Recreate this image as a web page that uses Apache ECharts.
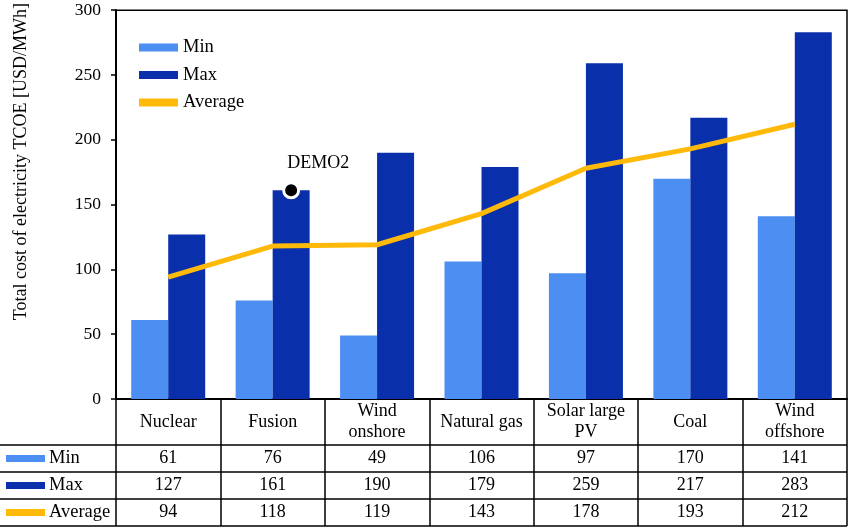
<!DOCTYPE html>
<html>
<head>
<meta charset="utf-8">
<script src="https://cdn.jsdelivr.net/npm/echarts@6/dist/echarts.min.js"></script>
<style>html,body{margin:0;padding:0;background:#fff}#c{width:850px;height:527px}</style>
</head>
<body>
<div id="c"></div>
<script>
// ---- data ----
const categories = ['Nuclear', 'Fusion', 'Wind\nonshore', 'Natural gas', 'Solar large\nPV', 'Coal', 'Wind\noffshore'];
const minValues = [61, 76, 49, 106, 97, 170, 141];
const maxValues = [127, 161, 190, 179, 259, 217, 283];
const avgValues = [94, 118, 119, 143, 178, 193, 212];
const demoPoint = [null, 161, null, null, null, null, null];
const demoLabel = 'DEMO2';
const seriesNames = ['Min', 'Max', 'Average'];
const yMin = 0, yMax = 300, yInterval = 50;

const colors = { min: '#4C8EF2', max: '#0A2FAA', avg: '#FFB908' };
const FONT = '"Liberation Serif", "Times New Roman", serif';

const chart = echarts.init(document.getElementById('c'));
const GRID = { left: 116, right: 3, top: 8, bottom: 128 };
const BAR_W = 37;

chart.setOption({
  animation: false,
  textStyle: { fontFamily: FONT, color: '#000' },
  grid: { left: GRID.left, right: GRID.right, top: GRID.top, bottom: GRID.bottom,
          show: true, borderColor: '#000', borderWidth: 1.5 },
  legend: {
    orient: 'vertical', left: 139, top: 38, itemWidth: 39, itemHeight: 8, itemGap: 8.5,
    icon: 'rect', padding: 0,
    textStyle: { fontFamily: FONT, fontSize: 18.5, color: '#000', lineHeight: 18 },
    data: seriesNames
  },
  xAxis: {
    type: 'category', data: categories,
    axisLine: { lineStyle: { color: '#000', width: 2 } },
    axisTick: { show: true, interval: 0, length: 127, lineStyle: { color: '#000', width: 1.5 } },
    axisLabel: { interval: 0, hideOverlap: false, fontFamily: FONT, fontSize: 18, color: '#000',
                 margin: 23, verticalAlign: 'middle', align: 'center', lineHeight: 21 },
    splitLine: { show: false }
  },
  yAxis: {
    type: 'value', min: yMin, max: yMax, interval: yInterval,
    name: 'Total cost of electricity TCOE [USD/MWh]', nameLocation: 'middle', nameGap: 86,
    nameTextStyle: { fontFamily: FONT, fontSize: 18, color: '#000', padding: [0, 0, 0, 86] },
    axisLine: { show: true, lineStyle: { color: '#000', width: 2 } },
    axisTick: { show: true, length: 5, lineStyle: { color: '#000', width: 1.5 } },
    axisLabel: { fontFamily: FONT, fontSize: 17.5, color: '#000', margin: 15 },
    splitLine: { show: false }
  },
  series: [
    { name: seriesNames[0], type: 'bar', data: minValues, barWidth: BAR_W, barGap: '0%',
      itemStyle: { color: colors.min } },
    { name: seriesNames[1], type: 'bar', data: maxValues, barWidth: BAR_W, barGap: '0%',
      itemStyle: { color: colors.max } },
    { name: seriesNames[2], type: 'line', data: avgValues, symbol: 'none', z: 5,
      itemStyle: { color: colors.avg }, lineStyle: { color: colors.avg, width: 5 } },
    { name: 'demo', type: 'scatter', data: demoPoint, symbol: 'circle', symbolSize: 15,
      symbolOffset: [BAR_W / 2, 0], z: 6,
      itemStyle: { color: '#000', borderColor: '#fff', borderWidth: 3, opacity: 1 },
      label: { show: true, formatter: demoLabel, position: 'top', distance: 9, offset: [27, 0],
               fontFamily: FONT, fontSize: 18, color: '#000', textBorderWidth: 0 } }
  ]
});

// ---- data table below the axis ----
const axisY = 527 - GRID.bottom;
const headerH = 46, rowH = 27;
const rightX = 850 - GRID.right;
const rows = [
  { name: seriesNames[0], values: minValues, color: colors.min },
  { name: seriesNames[1], values: maxValues, color: colors.max },
  { name: seriesNames[2], values: avgValues, color: colors.avg }
];
const g = [];
for (let r = 0; r <= rows.length; r++) {
  const y = axisY + headerH + r * rowH;
  g.push({ type: 'line', shape: { x1: 0, y1: y, x2: rightX, y2: y }, style: { stroke: '#000', lineWidth: 1.5 } });
}
rows.forEach((row, r) => {
  const cy = axisY + headerH + r * rowH + rowH / 2;
  g.push({ type: 'rect', shape: { x: 6, y: cy - 3.5, width: 39, height: 7 }, style: { fill: row.color } });
  g.push({ type: 'text', x: 49, y: cy, style: { text: row.name, font: '18.5px ' + FONT, fill: '#000', verticalAlign: 'middle', align: 'left' } });
  row.values.forEach((v, i) => {
    const cx = chart.convertToPixel({ xAxisIndex: 0 }, i);
    g.push({ type: 'text', x: cx, y: cy, style: { text: String(v), font: '18px ' + FONT, fill: '#000', align: 'center', verticalAlign: 'middle' } });
  });
});
chart.setOption({ graphic: g });
</script>
</body>
</html>
